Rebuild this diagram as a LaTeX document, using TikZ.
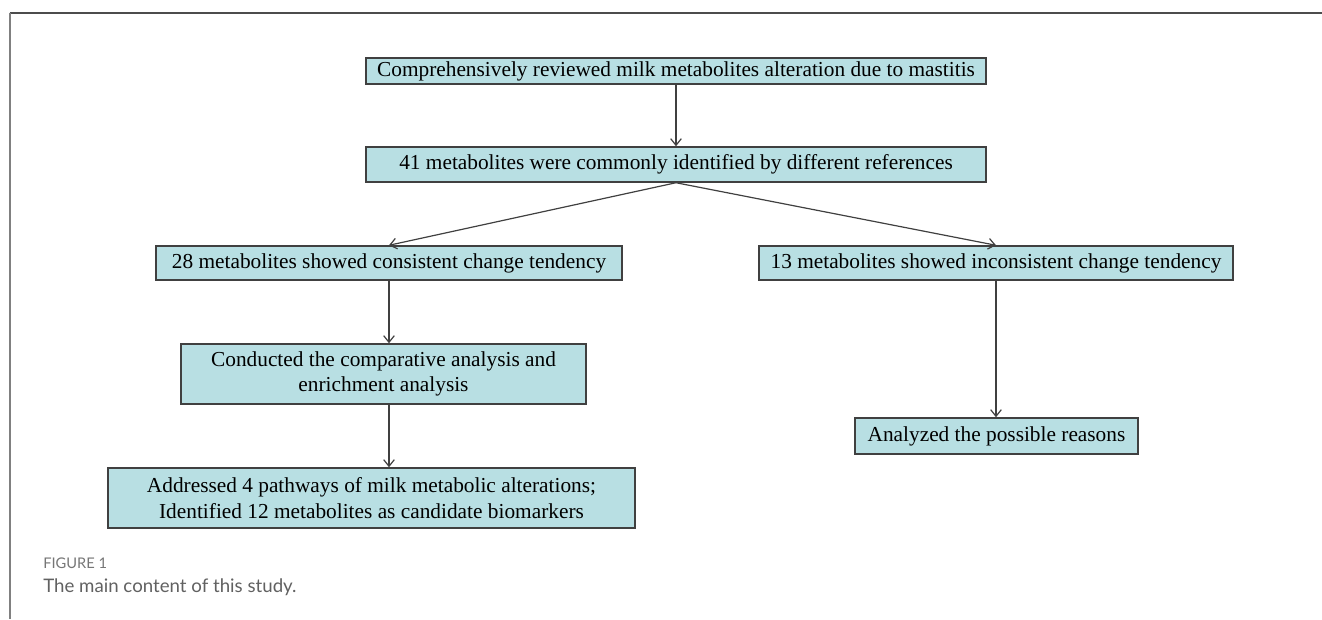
\documentclass[tikz,border=0pt]{standalone}
\usepackage{fontspec}
\setmainfont{Liberation Serif}
\newfontfamily\capfont{Lato}
\usetikzlibrary{positioning, arrows.meta, calc}

\definecolor{boxfill}{RGB}{184,223,227}
\definecolor{boxline}{RGB}{64,64,64}
\definecolor{capgray}{RGB}{118,118,118}

\begin{document}
\begin{tikzpicture}[
 x=0.75pt, y=-0.75pt,
 box/.style={draw=boxline, line width=1.1pt, fill=boxfill, rectangle, inner sep=0pt, align=center, font=\fontsize{16}{19}\selectfont},
 arrow/.style={-{Straight Barb[length=5pt, width=8pt]}, line width=0.9pt, draw=boxline},
 frame/.style={line width=1.5pt},
 caption/.style={anchor=base west, inner sep=0pt, text=capgray},
 ]

  \useasboundingbox (0,0) rectangle (1322,619);

  % Frame
  \coordinate (frame_corner) at (9.5,12.5);
  \coordinate (frame_right) at (1322,12.5);
  \coordinate (frame_bottom) at (9.5,619);
  \draw[frame, draw=black!70] (frame_corner) -- (frame_right);
  \draw[frame, draw=black!50] (frame_corner) -- (frame_bottom);

  % Top boxes
  \node[box, minimum width=465pt, minimum height=19.5pt] at (676,71) (review) {Comprehensively reviewed milk metabolites alteration due to mastitis};
  \node[box, minimum width=465pt, minimum height=26.25pt] at (676,164.5) (common) {41 metabolites were commonly identified by different references};

  % Split into two branches
  \node[box, minimum width=349.5pt, minimum height=25.5pt] at (389,263) (consistent) {28 metabolites showed consistent change tendency};
  \node[box, minimum width=355.5pt, minimum height=25.5pt] at (996,263) (inconsistent) {13 metabolites showed inconsistent change tendency};

  % Left branch
  \node[box, minimum width=303.75pt, minimum height=45pt] at (383.5,374) (compare) {Conducted the comparative analysis and\\ enrichment analysis};
  \node[box, minimum width=395.25pt, minimum height=45pt] at (371.5,498) (pathways) {Addressed 4 pathways of milk metabolic alterations;\\ Identified 12 metabolites as candidate biomarkers};

  % Right branch
  \node[box, minimum width=212.25pt, minimum height=27pt] at (996.5,436) (reasons) {Analyzed the possible reasons};

  % Caption
  \node[caption, font=\capfont\fontsize{11}{13}\selectfont] at (43,568) (fig_label) {FIGURE 1};
  \node[caption, font=\capfont\fontsize{14}{16}\selectfont, text=black!62] at (43,592) (fig_text) {The main content of this study.};

  % Arrows
  \draw[arrow] (review) -- (common);
  \draw[arrow] (common.south) -- (consistent.north);
  \draw[arrow] (common.south) -- (inconsistent.north);
  \draw[arrow] (consistent.south) -- (consistent.south |- compare.north);
  \draw[arrow] (consistent.south |- compare.south) -- (consistent.south |- pathways.north);
  \draw[arrow] (inconsistent.south) -- (inconsistent.south |- reasons.north);

\end{tikzpicture}
\end{document}
